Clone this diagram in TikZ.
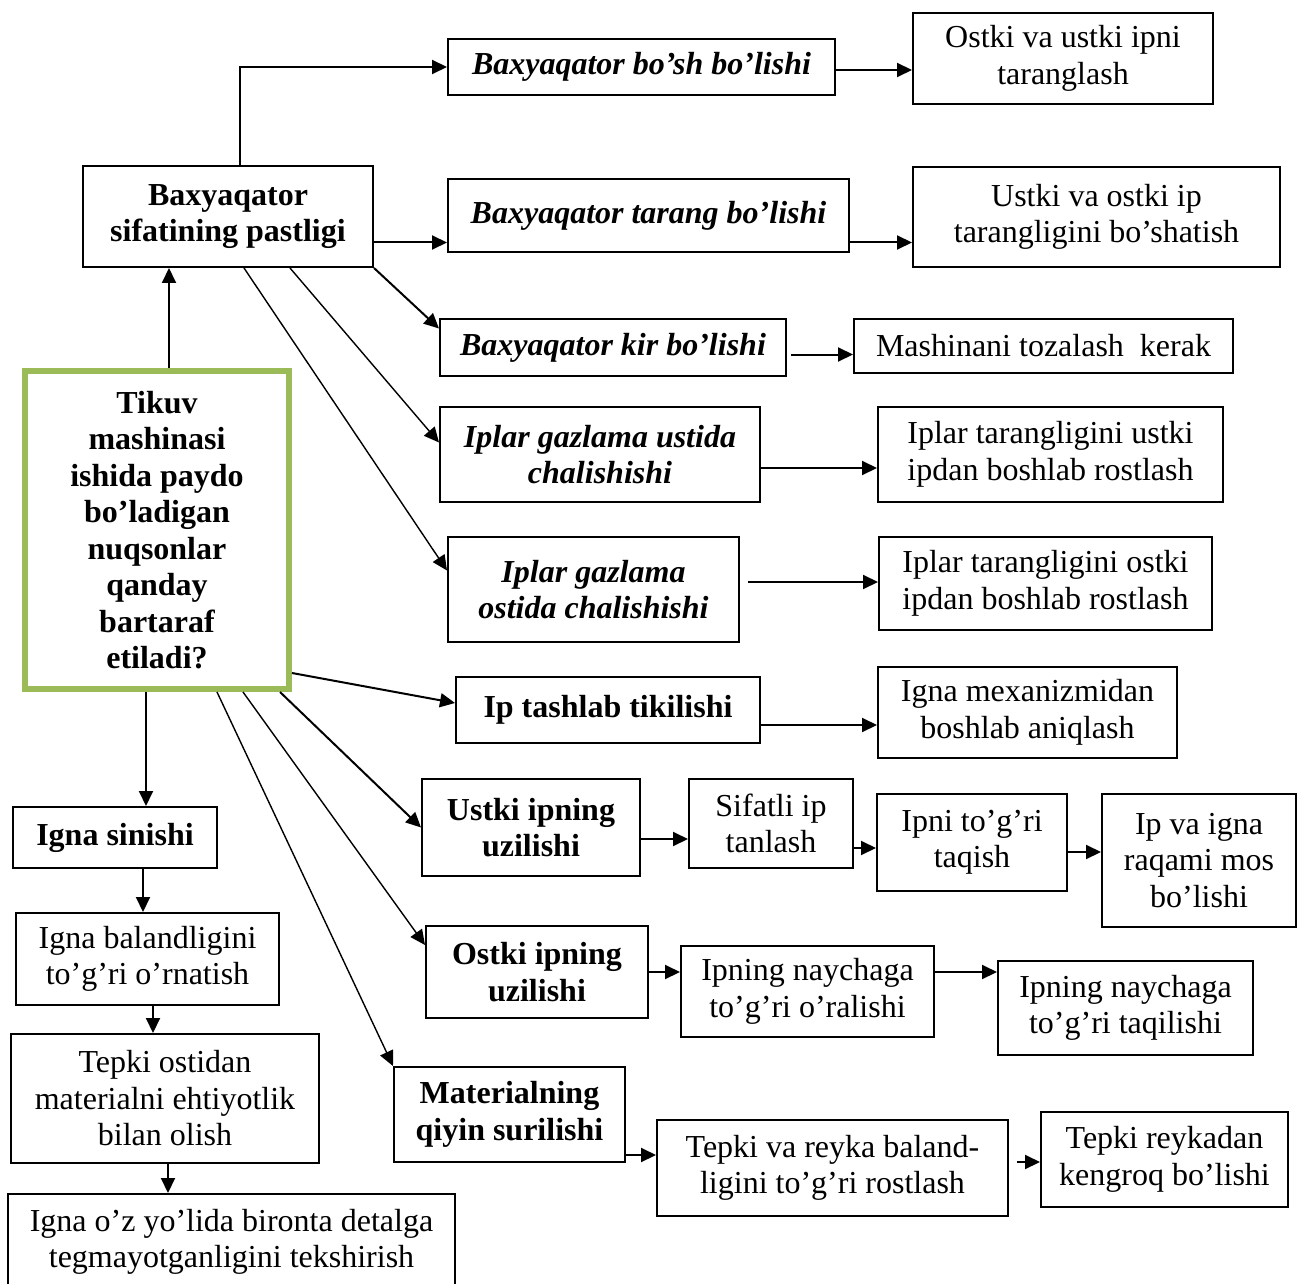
\documentclass[tikz,border=0pt]{standalone}
\usepackage{fontspec}
\setmainfont{Liberation Serif}
\usetikzlibrary{arrows.meta}
\definecolor{mgreen}{RGB}{155,187,89}
\begin{document}
\begin{tikzpicture}[x=1pt,y=-1pt,
 box/.style={draw,line width=2pt,inner sep=0pt,align=center,font=\fontsize{32}{36.5}\selectfont},
 bb/.style={box,font=\fontsize{32}{36.5}\selectfont\bfseries},
 bi/.style={box,font=\fontsize{32}{36.5}\selectfont\bfseries\itshape},
 arr/.style={line width=2pt,-{Triangle[length=15pt,width=14pt]}},
 thinarr/.style={line width=1.4pt,-{Triangle[length=15pt,width=14pt]}}]
\useasboundingbox (0,0) rectangle (1299,1284);
\fill[white] (0,0) rectangle (1299,1284);
\clip (0,0) rectangle (1299,1284);

% nodes
\node[bi,minimum width=387pt,minimum height=56pt] (B1) at (641.5,67) {Baxyaqator bo’sh bo’lishi};
\node[box,minimum width=300pt,minimum height=91pt] (R1) at (1063,58.5) {Ostki va ustki ipni\\taranglash};
\node[bb,minimum width=290pt,minimum height=101pt] (BS) at (228,216.5) {Baxyaqator\\sifatining pastligi};
\node[bi,minimum width=401pt,minimum height=73pt] (B2) at (648.5,215.5) {Baxyaqator tarang bo’lishi};
\node[box,minimum width=367pt,minimum height=100pt] (R2) at (1096.5,217) {Ustki va ostki ip\\tarangligini bo’shatish};
\node[bi,minimum width=346pt,minimum height=57pt] (B3) at (613,347.5) {Baxyaqator kir bo’lishi};
\node[box,minimum width=379pt,minimum height=54pt] (R3) at (1043.5,346) {Mashinani tozalash\ \ kerak};
\node[bi,minimum width=320pt,minimum height=95pt] (B4) at (600,454.5) {Iplar gazlama ustida\\chalishishi};
\node[box,minimum width=345pt,minimum height=95pt] (R4) at (1050.5,454.5) {Iplar tarangligini ustki\\ipdan boshlab rostlash};
\node[bi,minimum width=291pt,minimum height=105pt] (B5) at (593.5,589.5) {Iplar gazlama\\ostida chalishishi};
\node[box,minimum width=333pt,minimum height=93pt] (R5) at (1045.5,583.5) {Iplar tarangligini ostki\\ipdan boshlab rostlash};
\node[bb,minimum width=304pt,minimum height=66pt] (B6) at (608,710) {Ip tashlab tikilishi};
\node[box,minimum width=299pt,minimum height=91pt] (R6) at (1027.5,712.5) {Igna mexanizmidan\\boshlab aniqlash};
\node[bb,draw=mgreen,line width=6pt,minimum width=264pt,minimum height=318pt] (M) at (157,530) {Tikuv\\mashinasi\\ishida paydo\\bo’ladigan\\nuqsonlar\\qanday\\bartaraf\\etiladi?};
\node[bb,minimum width=204pt,minimum height=61pt] (IS) at (115,837.5) {Igna sinishi};
\node[box,minimum width=263pt,minimum height=92pt] (IB) at (147.5,959) {Igna balandligini\\to’g’ri o’rnatish};
\node[box,minimum width=308pt,minimum height=129pt] (TO) at (165,1098.5) {Tepki ostidan\\materialni ehtiyotlik\\bilan olish};
\node[box,minimum width=447pt,minimum height=96pt] (IO) at (231.5,1242) {Igna o’z yo’lida bironta detalga\\tegmayotganligini tekshirish};
\node[bb,minimum width=218pt,minimum height=97pt] (U) at (531,827.5) {Ustki ipning\\uzilishi};
\node[box,minimum width=164pt,minimum height=89pt] (S) at (771,823.5) {Sifatli ip\\tanlash};
\node[box,minimum width=190pt,minimum height=97pt] (IT) at (972,842.5) {Ipni to’g’ri\\taqish};
\node[box,minimum width=194pt,minimum height=133pt] (IV) at (1199,860.5) {Ip va igna\\raqami mos\\bo’lishi};
\node[bb,minimum width=222pt,minimum height=92pt] (O) at (537,972) {Ostki ipning\\uzilishi};
\node[box,minimum width=253pt,minimum height=91pt] (N1) at (807.5,991.5) {Ipning naychaga\\to’g’ri o’ralishi};
\node[box,minimum width=255pt,minimum height=94pt] (N2) at (1125.5,1008) {Ipning naychaga\\to’g’ri taqilishi};
\node[bb,minimum width=231pt,minimum height=95pt] (MQ) at (509.5,1114.5) {Materialning\\qiyin surilishi};
\node[box,minimum width=351pt,minimum height=96pt] (TR) at (832.5,1168) {Tepki va reyka baland-\\ligini to’g’ri rostlash};
\node[box,minimum width=247pt,minimum height=95pt] (TK) at (1164.5,1159.5) {Tepki reykadan\\kengroq bo’lishi};

% connectors
\coordinate (a1) at ([xshift=12pt]BS.north);
\draw[arr] (a1) |- (B1.west);
\coordinate (a0) at ([yshift=-3pt]B1.east);
\draw[arr] (a0) -- (a0 -| R1.west);
\coordinate (a2) at ([yshift=-26pt]BS.east);
\draw[arr] (a2) -- (a2 -| B2.west);
\draw[arr] (a2 -| B2.east) -- (a2 -| R2.west);
\draw[arr] (BS.south east) -- ([yshift=19pt]B3.west);
\coordinate (a3) at ([xshift=4pt,yshift=-7pt]B3.east);
\draw[arr] (a3) -- (a3 -| R3.west);
\draw[thinarr] ([xshift=62pt]BS.south) -- ([yshift=12pt]B4.west);
\draw[thinarr] ([xshift=16pt]BS.south) -- ([yshift=19pt]B5.west);
\coordinate (a4) at ([yshift=-13.5pt]B4.east);
\draw[arr] (a4) -- (a4 -| R4.west);
\coordinate (a5) at ([xshift=8pt,yshift=7.5pt]B5.east);
\draw[arr] (a5) -- (a5 -| R5.west);
\coordinate (a6) at ([xshift=12pt]M.north);
\draw[arr] (a6) -- (a6 |- BS.south);
\draw[arr] ([yshift=-143pt]M.east) -- ([yshift=7pt]B6.west);
\coordinate (a7) at ([yshift=-15pt]B6.east);
\draw[arr] (a7) -- (a7 -| R6.west);
\coordinate (a8) at ([xshift=-11pt]M.south);
\draw[arr] (a8) -- (a8 |- IS.north);
\coordinate (a9) at ([xshift=28pt]IS.south);
\draw[arr] (a9) -- (a9 |- IB.north);
\coordinate (a10) at ([xshift=5.5pt]IB.south);
\draw[arr] (a10) -- (a10 |- TO.north);
\coordinate (a11) at ([xshift=3pt]TO.south);
\draw[arr] (a11) -- (a11 |- IO.north);
\draw[arr] ([xshift=123pt]M.south) -- (U.west);
\draw[thinarr] ([xshift=86pt]M.south) -- ([yshift=27pt]O.west);
\draw[thinarr] ([xshift=60pt]M.south) -- (MQ.north west);
\coordinate (a12) at ([yshift=-11.5pt]U.east);
\draw[arr] (a12) -- (a12 -| S.west);
\coordinate (a13) at ([yshift=-24.5pt]S.east);
\draw[arr] (a13) -- (a13 -| IT.west);
\coordinate (a14) at ([yshift=-9.5pt]IT.east);
\draw[arr] (a14) -- (a14 -| IV.west);
\draw[arr] (O.east) -- (O.east -| N1.west);
\coordinate (a15) at ([yshift=19.5pt]N1.east);
\draw[arr] (a15) -- (a15 -| N2.west);
\coordinate (a16) at ([yshift=-40.5pt]MQ.east);
\draw[arr] (a16) -- (a16 -| TR.west);
\coordinate (a17) at ([xshift=8pt,yshift=6pt]TR.east);
\draw[arr] (a17) -- (a17 -| TK.west);
\end{tikzpicture}
\end{document}
